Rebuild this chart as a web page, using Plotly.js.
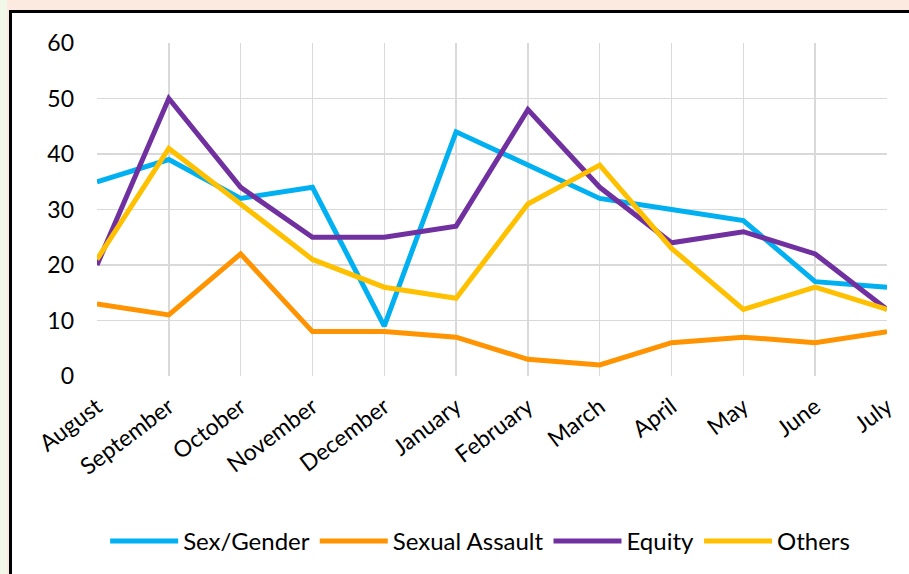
<!DOCTYPE html>
<html>
<head>
<meta charset="utf-8">
<script src="https://cdn.plot.ly/plotly-3.0.1.min.js"></script>
<style>
  html, body { margin: 0; padding: 0; }
  body { width: 909px; height: 574px; position: relative; overflow: hidden; background: #fce9df; }
  #green { position: absolute; left: 0; top: 0; width: 7px; height: 574px; background: #f1f8e7; }
  #frame { position: absolute; left: 9px; top: 10px; width: 900px; height: 564px; border-left: 3px solid #000; border-top: 3px solid #000; background: #fff; }
  #chart { position: absolute; left: 12px; top: 13px; width: 897px; height: 561px; }
</style>
</head>
<body>
<div id="green"></div>
<div id="frame"></div>
<div id="chart"></div>
<script>
const months = ["August","September","October","November","December","January","February","March","April","May","June","July"];
const sexGender = [35, 39, 32, 34, 9, 44, 38, 32, 30, 28, 17, 16];
const sexualAssault = [13, 11, 22, 8, 8, 7, 3, 2, 6, 7, 6, 8];
const equity = [20, 50, 34, 25, 25, 27, 48, 34, 24, 26, 22, 12];
const others = [21, 41, 31, 21, 16, 14, 31, 38, 23, 12, 16, 12];
const yTicks = [0, 10, 20, 30, 40, 50, 60];

const names = ["Sex/Gender", "Sexual Assault", "Equity", "Others"];
const colors = ["#00b0f0", "#ff9300", "#7030a0", "#ffc000"];
const series = [sexGender, sexualAssault, equity, others];

const traces = series.map((ys, i) => ({
  type: "scatter",
  mode: "lines",
  x: months,
  y: ys,
  name: names[i],
  line: { color: colors[i], width: 5 },
  hoverinfo: "skip"
}));

const font = "Lato, 'Open Sans', sans-serif";
const layout = {
  width: 897,
  height: 561,
  margin: { l: 85, r: 22, t: 30, b: 198, autoexpand: false },
  paper_bgcolor: "#ffffff",
  plot_bgcolor: "#ffffff",
  showlegend: true,
  legend: {
    orientation: "h",
    x: 0.485, xanchor: "center",
    y: -0.497, yanchor: "middle",
    font: { family: font, size: 24, color: "#000" },
    itemwidth: 68,
    traceorder: "normal"
  },
  xaxis: {
    type: "category",
    range: [0, 11],
    showgrid: true,
    gridcolor: "#d9d9d9",
    gridwidth: 1.5,
    showline: false,
    zeroline: false,
    ticks: "",
    tickangle: -37,
    ticklabelstandoff: 12,
    tickfont: { family: font, size: 23, color: "#000" }
  },
  yaxis: {
    range: [0, 60],
    tickvals: yTicks,
    ticktext: yTicks.map(String),
    showgrid: true,
    gridcolor: "#d9d9d9",
    gridwidth: 1.5,
    zeroline: false,
    showline: false,
    ticks: "",
    ticklabelstandoff: 22,
    tickfont: { family: font, size: 23, color: "#000" }
  }
};

Plotly.newPlot("chart", traces, layout, { displayModeBar: false, staticPlot: true });
</script>
</body>
</html>
